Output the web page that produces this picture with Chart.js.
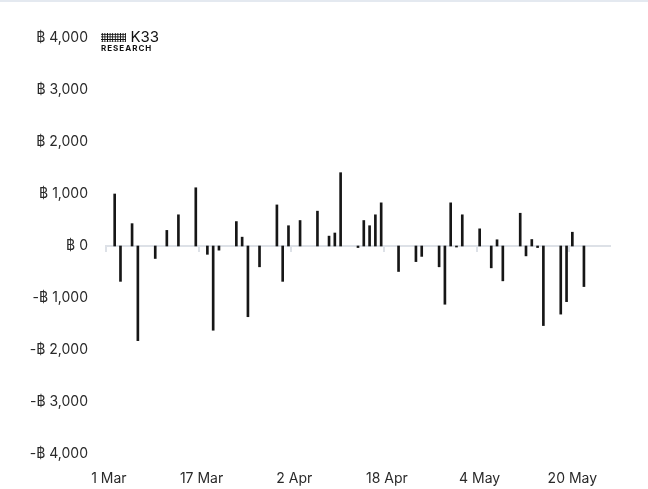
<!DOCTYPE html>
<html lang="en">
<head>
    <meta charset="UTF-8">
    <title>BTC flows</title>
    <script src="https://cdn.jsdelivr.net/npm/chart.js"></script>
    <style>
        body { margin: 0; background: #fff; }
        .wrap { position: relative; width: 648px; height: 489px; border-top: 2px solid #e4e9f0; box-sizing: border-box; }
        canvas { position: absolute; left: 0; top: -2px; }
        .logo { position: absolute; left: 101px; top: 26px; font-family: Inter, "DejaVu Sans", sans-serif; color: #111; line-height: 1; }
        .logo .dots { display: inline-block; width: 25px; height: 9px; vertical-align: 0px;
            background-image: radial-gradient(circle, #111 0.9px, transparent 1.1px); background-size: 2.6px 2.6px; }
        .logo .k { font-size: 15px; }
        .logo .r { font-size: 8px; font-weight: 700; letter-spacing: 1px; margin-top: 0px; }
    </style>
</head>
<body>
<div class="wrap">
    <canvas id="flowChart" width="648" height="489"></canvas>
    <div class="logo"><span class="dots"></span> <span class="k">K33</span><div class="r">RESEARCH</div></div>
</div>
<script>
    // jours depuis le 1er mars et flux en BTC
    const startDate = new Date(2024, 2, 1);
    const dayCount = 87;
    const flowDays = [1, 2, 4, 5, 8, 10, 12, 15, 17, 18, 19, 22, 23, 24, 26, 29, 30, 31, 33, 36, 38, 39, 40,
        43, 44, 45, 46, 47, 50, 53, 54, 57, 58, 59, 60, 61, 64, 66, 67, 68, 71, 72, 73, 74, 75, 78, 79, 80, 82];
    const flowValues = [1000, -680, 430, -1820, -240, 300, 600, 1120, -160, -1620, -80, 470, 170, -1360, -400, 790, -680, 390, 490, 670, 190, 250, 1410,
        -30, 490, 390, 600, 830, -490, -300, -200, -400, -1120, 830, -20, 600, 330, -420, 120, -670, 630, -190, 125, -30, -1530, -1310, -1070, 265, -780];
    const tickLabels = ['1 Mar', '17 Mar', '2 Apr', '18 Apr', '4 May', '20 May'];
    const tickEvery = 16;

    const months = ['Jan', 'Feb', 'Mar', 'Apr', 'May', 'Jun'];
    const labels = [];
    for (let i = 0; i < dayCount; i++) {
        const d = new Date(startDate.getFullYear(), startDate.getMonth(), startDate.getDate() + i);
        labels.push(d.getDate() + ' ' + months[d.getMonth()]);
    }
    const series = labels.map(() => null);
    flowDays.forEach((d, i) => { series[d] = flowValues[i]; });

    const font = { family: 'Inter, "DejaVu Sans", sans-serif', size: 14 };

    function btc(v) {
        const s = '\u0E3F ' + Math.abs(v).toLocaleString('en-US');
        return v < 0 ? '-' + s : s;
    }

    new Chart(document.getElementById('flowChart'), {
        type: 'bar',
        data: {
            labels: labels,
            datasets: [{
                data: series,
                backgroundColor: '#161616',
                barThickness: 2,
                borderWidth: 0
            }]
        },
        options: {
            responsive: false,
            animation: false,
            layout: { padding: { top: 38, right: 38, left: 0, bottom: 0 } },
            plugins: { legend: { display: false }, tooltip: { enabled: false } },
            scales: {
                x: {
                    grid: { display: false },
                    border: { display: false },
                    ticks: {
                        autoSkip: false, maxRotation: 0, padding: 8, color: '#2a2a2a', font: font,
                        callback: (v, i) => i % tickEvery === 0 ? tickLabels[i / tickEvery] : ''
                    },
                    afterFit: s => { s.height = 35; }
                },
                x2: {
                    type: 'category',
                    axis: 'x',
                    labels: labels,
                    offset: true,
                    position: { y: 0 },
                    ticks: { display: false },
                    border: { color: '#dde1e7', width: 2 },
                    grid: {
                        offset: true, drawOnChartArea: false, tickLength: 5, lineWidth: 2,
                        color: ctx => ctx.index % tickEvery === 0 ? '#dde1e7' : 'rgba(0,0,0,0)'
                    },
                    afterFit: s => { s.height = 0; }
                },
                y: {
                    min: -4000, max: 4000,
                    grid: { display: false },
                    border: { display: false },
                    ticks: { stepSize: 1000, padding: 10, color: '#2a2a2a', font: font, callback: v => btc(v) },
                    afterFit: s => { s.width = 106; }
                }
            }
        }
    });
</script>
</body>
</html>
